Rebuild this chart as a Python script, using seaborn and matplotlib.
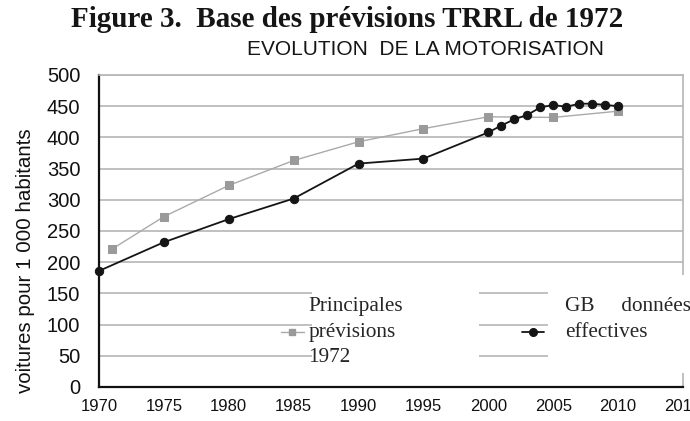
import matplotlib
matplotlib.use("Agg")
import matplotlib.pyplot as plt
from matplotlib.lines import Line2D
from matplotlib.patches import Rectangle
import seaborn as sns
import pandas as pd

# ---- data ----
forecast_years = [1971, 1975, 1980, 1985, 1990, 1995, 2000, 2005, 2010]
forecast_values = [221, 273, 323, 363, 393, 414, 433, 432, 442]

actual_years = [1970, 1975, 1980, 1985, 1990, 1995, 2000, 2001, 2002, 2003,
                2004, 2005, 2006, 2007, 2008, 2009, 2010]
actual_values = [186, 232, 269, 302, 358, 366, 408, 419, 429, 436,
                 448, 452, 449, 454, 454, 452, 450]

x_ticks = [1970, 1975, 1980, 1985, 1990, 1995, 2000, 2005, 2010, 2015]
y_ticks = [0, 50, 100, 150, 200, 250, 300, 350, 400, 450, 500]

title = "Figure 3.  Base des prévisions TRRL de 1972"
subtitle = "EVOLUTION  DE LA MOTORISATION"
ylabel = "voitures pour 1 000 habitants"
label_forecast = "Principales\nprévisions\n1972"
label_actual = "GB     données\neffectives\n "

forecast = pd.DataFrame({"year": forecast_years, "value": forecast_values})
actual = pd.DataFrame({"year": actual_years, "value": actual_values})

sns.set_style("white")
plt.rcParams["font.family"] = ["Liberation Sans", "DejaVu Sans"]

fig = plt.figure(figsize=(6.9, 4.21), dpi=100)
ax = fig.add_axes([0.1435, 0.0808, 0.8464, 0.7411])

FC = "#9a9a9a"
AC = "#151515"

sns.lineplot(data=forecast, x="year", y="value", ax=ax, color="#aaaaaa",
             linewidth=1.0, marker="s", markersize=5.5, markerfacecolor=FC,
             markeredgecolor=FC, zorder=4)
sns.lineplot(data=actual, x="year", y="value", ax=ax, color=AC,
             linewidth=1.3, marker="o", markersize=6, markerfacecolor=AC,
             markeredgecolor=AC, zorder=5, clip_on=False)

ax.set_xlim(1970, 2015)
ax.set_ylim(0, 500)
ax.set_xticks(x_ticks)
ax.set_xticklabels([str(t) for t in x_ticks])
ax.set_yticks(y_ticks)
ax.set_yticklabels([str(t) for t in y_ticks])

ax.grid(axis="y", color="#b5b5b5", linewidth=1.2, zorder=0)
ax.grid(axis="x", visible=False)
ax.set_axisbelow(True)

for s in ["left", "bottom"]:
    ax.spines[s].set_color("#111111")
    ax.spines[s].set_linewidth(1.6)
for s in ["right", "top"]:
    ax.spines[s].set_color("#b5b5b5")
    ax.spines[s].set_linewidth(1.2)

ax.tick_params(axis="x", direction="out", length=6, width=1.0, color="#111111",
               labelsize=12, pad=3, labelcolor="#111111")
ax.tick_params(axis="y", direction="in", length=12, width=1.2, color="#3a3a3a",
               labelsize=14.5, pad=13.5, labelcolor="#111111")

ax.set_xlabel("")
ax.set_ylabel(ylabel, fontsize=14.8, color="#111111")
ax.yaxis.set_label_coords(-0.110, 0.405)

# white boxes behind the legend texts (they hide gridlines and the right spine)
ax.add_patch(Rectangle((0.365, 0.045), 0.286, 0.314, transform=ax.transAxes,
                       facecolor="white", edgecolor="none", zorder=2.7))
ax.add_patch(Rectangle((0.769, 0.045), 0.25, 0.314, transform=ax.transAxes,
                       facecolor="white", edgecolor="none", zorder=2.7,
                       clip_on=False))

h1 = Line2D([], [], color="#aaaaaa", linewidth=1.0, marker="s", markersize=5,
            markerfacecolor=FC, markeredgecolor=FC)
h2 = Line2D([], [], color=AC, linewidth=1.3, marker="o", markersize=5.5,
            markerfacecolor=AC, markeredgecolor=AC)

serif = ["Liberation Serif", "DejaVu Serif"]
leg1 = ax.legend([h1], [label_forecast], loc="center left",
                 bbox_to_anchor=(0.312, 0.176), frameon=False,
                 prop={"family": serif, "size": 15.3}, handlelength=1.05,
                 handletextpad=0.22, borderpad=0, borderaxespad=0)
leg1.get_texts()[0].set_linespacing(1.46)
leg1.set_zorder(6)
ax.add_artist(leg1)
leg2 = ax.legend([h2], [label_actual], loc="center left",
                 bbox_to_anchor=(0.724, 0.176), frameon=False,
                 prop={"family": serif, "size": 15.3}, handlelength=1.05,
                 handletextpad=1.0, borderpad=0, borderaxespad=0)
leg2.get_texts()[0].set_linespacing(1.46)
leg2.set_zorder(6)

fig.text(0.503, 0.985, title, ha="center", va="top", fontsize=21,
         fontweight="bold", family=serif, color="#151515")
fig.text(0.617, 0.905, subtitle, ha="center", va="top", fontsize=15,
         color="#151515")

fig.savefig("out.png", dpi=100)
